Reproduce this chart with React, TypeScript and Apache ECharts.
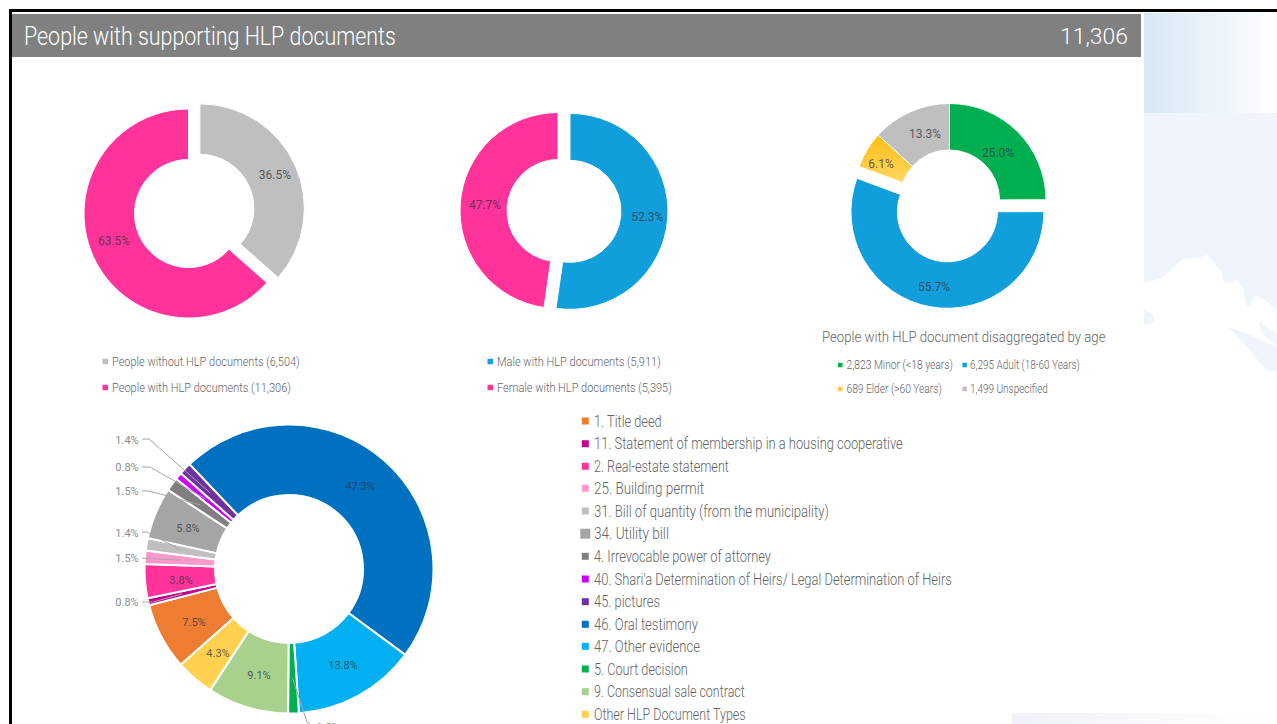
import React, { useEffect, useRef } from "react";
import * as echarts from "echarts";

const FONT = "Roboto";
const TITLE = "People with supporting HLP documents";
const TOTAL = "11,306";
const AGE_TITLE = "People with HLP document disaggregated by age";

const supportNames = ["People without HLP documents (6,504)", "People with HLP documents (11,306)"];
const supportValues = [6504, 11306];
const supportColors = ["#BFBFBF", "#FF3399"];

const genderNames = ["Male with HLP documents (5,911)", "Female with HLP documents (5,395)"];
const genderValues = [5911, 5395];
const genderColors = ["#119FDC", "#FF3399"];

const ageNames = ["2,823 Minor (<18 years)", "6,295 Adult (18-60 Years)", "689 Elder (>60 Years)", "1,499 Unspecified"];
const ageValues = [2823, 6295, 689, 1499];
const ageColors = ["#00B050", "#119FDC", "#FFC83D", "#BFBFBF"];
const ELDER_GRADIENT = { type: "linear", x: 0, y: 0, x2: 0, y2: 1, colorStops: [{ offset: 0, color: "#FFBD10" }, { offset: 1, color: "#FFD766" }] };

const docNames = [
  "1. Title deed",
  "11. Statement of membership in a housing cooperative",
  "2. Real-estate statement",
  "25. Building permit",
  "31. Bill of quantity (from the municipality)",
  "34. Utility bill",
  "4. Irrevocable power of attorney",
  "40. Shari'a Determination of Heirs/ Legal Determination of Heirs",
  "45. pictures",
  "46. Oral testimony",
  "47. Other evidence",
  "5. Court decision",
  "9. Consensual sale contract",
  "Other HLP Document Types",
];
// These are the percentages as printed, so the labels show them unchanged.
const docValues = [7.5, 0.8, 3.8, 1.5, 1.4, 5.8, 1.5, 0.8, 1.4, 47.3, 13.8, 1.2, 9.1, 4.3];
const docColors = ["#ED7D31", "#C5008F", "#FF3399", "#FF99CC", "#BFBFBF", "#A5A5A5", "#7F7F7F", "#CC00FF", "#7030A0", "#0070C0", "#00B0F0", "#00B050", "#A9D18E", "#FFD14F"];

// layout, kept apart from the values: label anchors and text extents
const supportLabels = [[277, 187], [114, 241]];
const genderLabels = [[642, 217], [485, 205]];
const ageLabels = [[998, 153], [929, 285], [881, 164], [925, 134]];
const docLabels = [[194, 622], [127, 602], [181, 580], [127, 558], [127, 533], [188, 528], [127, 491], [127, 467], [127, 440], [360, 486], [343, 665], [328, 727], [259, 675], [218, 653]];
const DOC_CENTER = [289, 569];
const DOC_RADIUS = [74, 144.5];
const DOC_START_COMPASS = 228.5;
const docTextEnds = [662, 903, 729, 704, 829, 669, 771, 952, 660, 698, 700, 688, 745, 746];
const docRows = [421, 443.7, 466.3, 488.3, 511, 533.7, 556.3, 579, 601.7, 624.3, 646.3, 669, 691.7, 714.3];
const supportTextEnds = [300, 291];
const genderTextEnds = [661, 672];
const ageTextEnds = [953, 1080, 942, 1048];
// outer ends of the leader lines, by slice index
const leaderEnds: Record<number, number[][]> = {
  1: [[153, 602], [142, 602]],
  3: [[142, 558]],
  4: [[147, 532], [142, 532]],
  6: [[149, 491], [142, 491]],
  7: [[150, 467], [142, 467]],
  8: [[149, 439], [142, 439]],
  11: [[307, 722], [313, 726]],
};

const LABEL_DARK = "rgba(50,50,60,0.75)";
const LABEL_OUT = "#8C8C8C";
const LEGEND_TEXT = "#646464";

const measureCtx = document.createElement("canvas").getContext("2d")!;
function textWidth(text: string, font: string) {
  measureCtx.font = font;
  return measureCtx.measureText(text).width;
}

// A text squeezed to the width it has in the picture.
function fitted(text: string, x: number, y: number, endX: number, font: string, fill: string, align = "left") {
  const scaleX = (align === "left" ? endX - x : x - endX) / textWidth(text, font);
  return { type: "text", silent: true, z: 10, x, y, scaleX, style: { text, x: 0, y: 0, fill, font, align, verticalAlign: "middle" } };
}

function legendItem(name: string, color: string, iconX: number, textX: number, y: number, endX: number, font: string, icon: number) {
  return [
    { type: "rect", silent: true, z: 10, shape: { x: iconX, y: y - icon / 2, width: icon, height: icon }, style: { fill: color } },
    fitted(name, textX, y, endX, font, LEGEND_TEXT),
  ];
}

function pie(names: string[], values: number[], colors: any[], labels: number[][], center: number[], radius: number[], opts: any = {}) {
  const selectedIndex = opts.selectedIndex ?? -1;
  const outer: number[] = opts.outer ?? [];
  const total = values.reduce((a, b) => a + b, 0);
  return {
    type: "pie",
    center,
    radius,
    startAngle: opts.startAngle ?? 90,
    clockwise: true,
    avoidLabelOverlap: false,
    selectedMode: selectedIndex >= 0 ? "single" : false,
    selectedOffset: opts.offset ?? 0,
    silent: true,
    select: { itemStyle: { borderColor: "#fff", borderWidth: opts.border ?? 1 } },
    itemStyle: { borderColor: "#fff", borderWidth: opts.border ?? 1 },
    labelLine: { show: false },
    label: {
      show: true,
      position: "inside",
      formatter: (p: any) => (opts.valuesArePercent ? p.value : (p.value / total) * 100).toFixed(1) + "%",
      fontFamily: FONT,
      fontWeight: 400,
      fontSize: opts.labelSize ?? 12,
      color: LABEL_DARK,
    },
    labelLayout: (p: any) => ({ x: labels[p.dataIndex][0], y: labels[p.dataIndex][1], align: "center", verticalAlign: "middle", hideOverlap: false }),
    data: values.map((value, i) => ({
      name: names[i],
      value,
      selected: i === selectedIndex,
      itemStyle: { color: colors[i] },
      ...(outer.includes(i) ? { label: { color: LABEL_OUT } } : {}),
    })),
  };
}

function leaderLines() {
  const total = docValues.reduce((a, b) => a + b, 0);
  const rMid = (DOC_RADIUS[0] + DOC_RADIUS[1]) / 2;
  const out: any[] = [];
  let acc = 0;
  docValues.forEach((v, i) => {
    const a = ((DOC_START_COMPASS + ((acc + v / 2) / total) * 360) * Math.PI) / 180;
    acc += v;
    const ends = leaderEnds[i];
    if (!ends) return;
    const start = [DOC_CENTER[0] + rMid * Math.sin(a), DOC_CENTER[1] - rMid * Math.cos(a)];
    out.push({
      type: "polyline",
      silent: true,
      z: 10,
      shape: { points: [start, ...ends] },
      style: { stroke: "#A6A6A6", lineWidth: 1, fill: "none" },
    });
  });
  return out;
}

const sky = "#F0F4FC";
function backdrop() {
  const poly = (points: number[][], fill: any = sky) => ({ type: "polygon", silent: true, z: -1, shape: { points }, style: { fill } });
  return [
    { type: "rect", silent: true, z: -1, shape: { x: 1144, y: 13, width: 133, height: 100 }, style: { fill: { type: "linear", x: 0, y: 0, x2: 1, y2: 0, colorStops: [{ offset: 0, color: "#D5E8F4" }, { offset: 1, color: "#FFFFFF" }] } } },
    poly([[1144, 113], [1277, 113], [1277, 310], [1265, 300], [1255, 295], [1250, 305], [1247, 307], [1243, 290], [1238, 280], [1225, 284], [1220, 270], [1208, 255], [1197, 258], [1183, 259], [1163, 277], [1150, 282], [1144, 283]]),
    poly([[1144, 309], [1153, 315], [1155, 322], [1147, 325], [1144, 326]]),
    poly([[1258, 320], [1277, 335], [1277, 345], [1263, 335]]),
    poly([[1228, 327], [1250, 335], [1277, 347], [1277, 372], [1266, 370], [1245, 345]]),
    { type: "rect", silent: true, z: -1, shape: { x: 1012, y: 713, width: 265, height: 11 }, style: { fill: { type: "linear", x: 0, y: 0, x2: 1, y2: 0, colorStops: [{ offset: 0, color: "#EEF2F8" }, { offset: 1, color: "#FFFFFF" }] } } },
    { type: "rect", silent: true, z: 0, shape: { x: 9, y: 9, width: 1268, height: 3 }, style: { fill: "#000" } },
    { type: "rect", silent: true, z: 0, shape: { x: 9, y: 9, width: 3, height: 715 }, style: { fill: "#000" } },
    { type: "rect", silent: true, z: 0, shape: { x: 12, y: 14, width: 1129, height: 43 }, style: { fill: "#808080" } },
  ];
}

export default function App() {
  const ref = useRef<HTMLDivElement>(null);
  useEffect(() => {
    document.documentElement.style.overflow = "hidden";
    document.body.style.margin = "0";
    document.body.style.overflow = "hidden";
    const chart = echarts.init(ref.current!, null, { renderer: "svg" });
    const small = `300 13px ${FONT}`;
    const tiny = `300 12px ${FONT}`;
    const mid = `300 16.5px ${FONT}`;
    const agePieColors = ageColors.map((c, i) => (i === 2 ? ELDER_GRADIENT : c));
    chart.setOption({
      animation: false,
      backgroundColor: "#fff",
      tooltip: { show: false },
      series: [
        pie(supportNames, supportValues, supportColors, supportLabels, [188.5, 213.5], [54, 104.5], { selectedIndex: 0, offset: 12.5, labelSize: 12 }),
        pie(genderNames, genderValues, genderColors, genderLabels, [558, 210.5], [51, 98], { selectedIndex: 0, offset: 12, labelSize: 12 }),
        pie(ageNames, ageValues, agePieColors, ageLabels, [949.5, 200], [50, 96.5], { selectedIndex: 1, offset: 12, labelSize: 12 }),
        pie(docNames, docValues, docColors, docLabels, DOC_CENTER, DOC_RADIUS, { startAngle: 90 - DOC_START_COMPASS, border: 2, labelSize: 11, valuesArePercent: true, outer: [1, 3, 4, 6, 7, 8, 11] }),
      ],
      graphic: [
        ...backdrop(),
        ...leaderLines(),
        fitted(TITLE, 24, 36, 396, `300 26px ${FONT}`, "#fff"),
        fitted(TOTAL, 1128, 36, 1060, `300 22px ${FONT}`, "#fff", "right"),
        fitted(AGE_TITLE, 822, 337, 1106, `300 15.5px ${FONT}`, LEGEND_TEXT),
        ...supportNames.flatMap((n, i) => legendItem(n, supportColors[i], 102.5, 112, 361.5 + i * 26, supportTextEnds[i], small, 5.5)),
        ...genderNames.flatMap((n, i) => legendItem(n, genderColors[i], 487.5, 497, 361.5 + i * 26, genderTextEnds[i], small, 5.5)),
        ...ageNames.flatMap((n, i) =>
          legendItem(n, ageColors[i], i % 2 ? 962.4 : 838, i % 2 ? 970 : 846.5, i < 2 ? 365 : 389, ageTextEnds[i], tiny, 4.5)
        ),
        ...docNames.flatMap((n, i) => {
          const icon = i === 5 ? 10 : 7;
          return legendItem(n, docColors[i], 585.3 - icon / 2, 594, docRows[i], docTextEnds[i], mid, icon);
        }),
      ],
    });
    return () => chart.dispose();
  }, []);
  return <div ref={ref} style={{ position: "fixed", left: 0, top: 0, width: 1277, height: 724 }} />;
}
